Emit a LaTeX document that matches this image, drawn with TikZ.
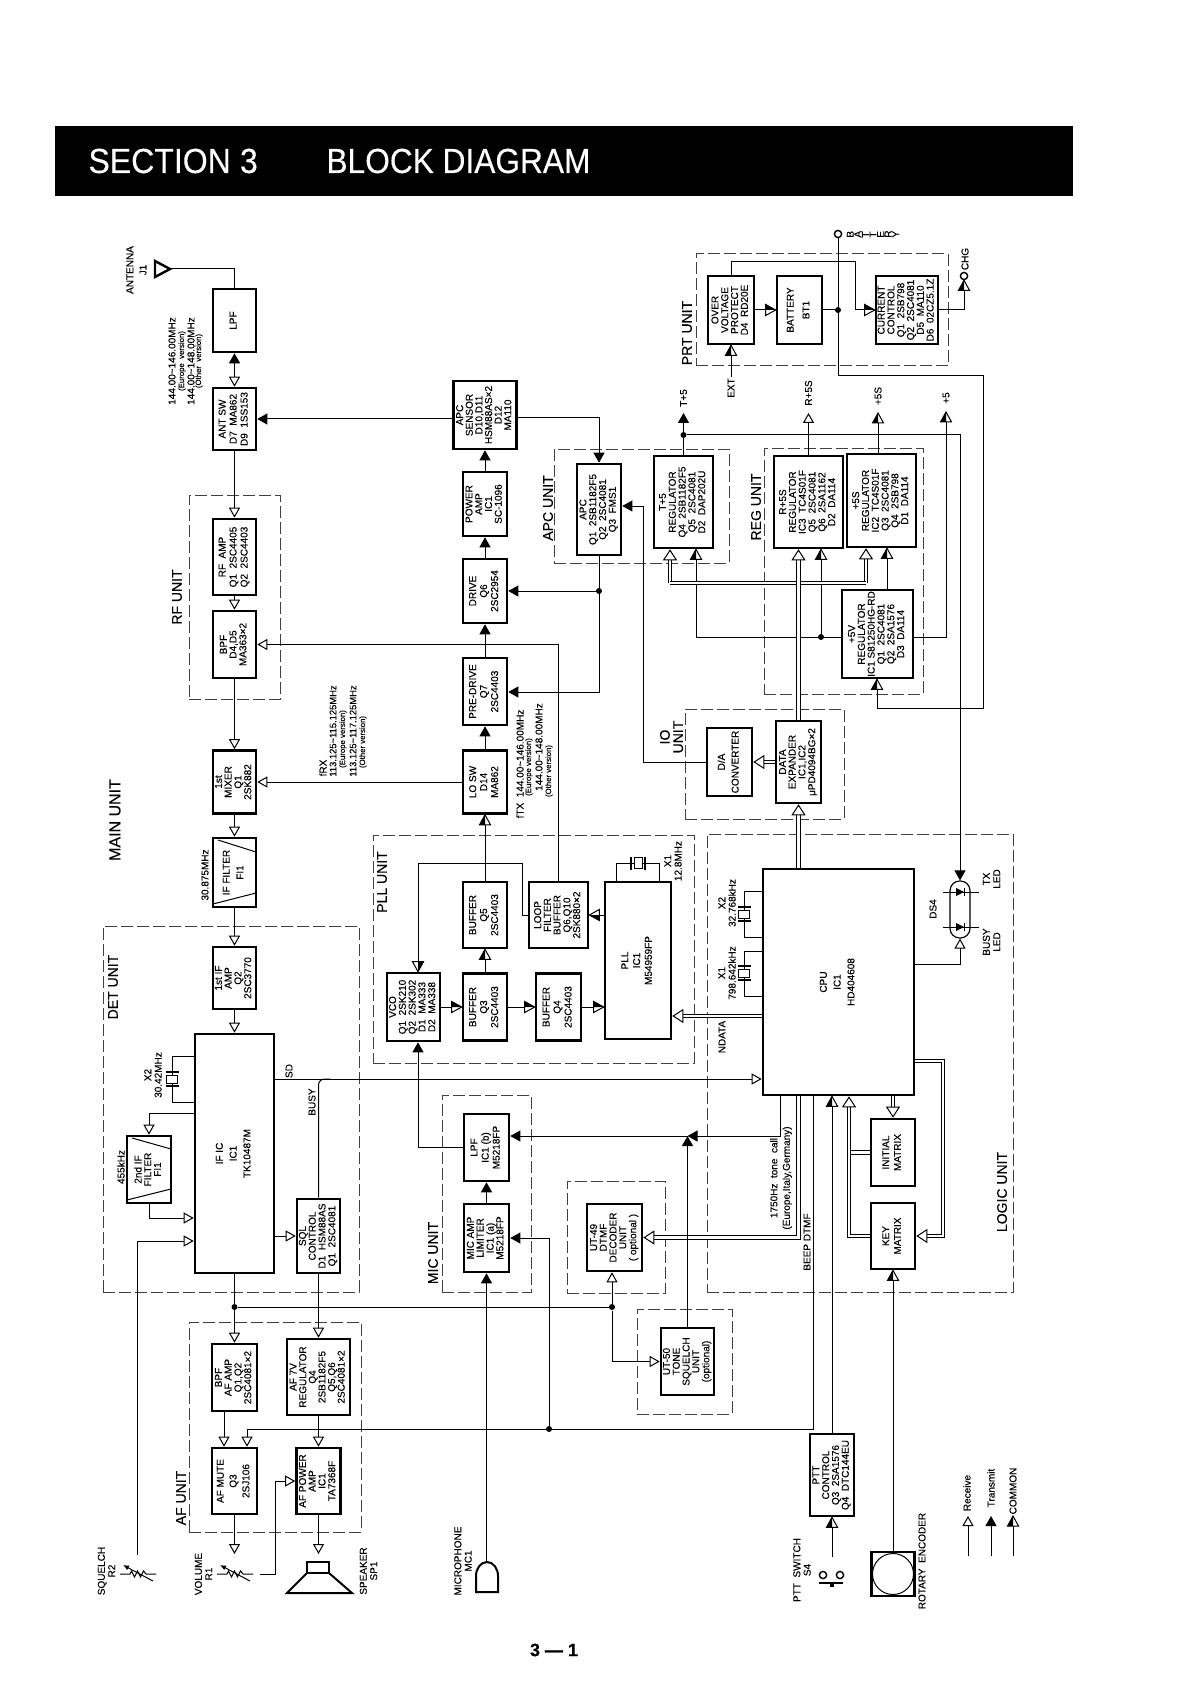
\documentclass[tikz,border=0pt]{standalone}
\usepackage{fontspec}
\setmainfont{Liberation Sans}[FakeBold=0.2]
\usetikzlibrary{arrows.meta,shapes.geometric}
\newcommand{\vt}[1]{\rotatebox{90}{\begin{tabular}{@{}c@{}}#1\end{tabular}}}
\newcommand{\rl}[1]{\rotatebox{90}{#1}\hspace{.35pt}}
\newcommand{\xtalv}[3]{\node[xbody,sz={11/8}] (#1) at (#2,#3) {};
  \draw[plate] (#2-6.5,#3-7) -- (#2+6.5,#3-7) (#2-6.5,#3+7) -- (#2+6.5,#3+7);}
\newcommand{\xtalh}[3]{\node[xbody,sz={8/11}] (#1) at (#2,#3) {};
  \draw[plate] (#2-7,#3-6.5) -- (#2-7,#3+6.5) (#2+7,#3-6.5) -- (#2+7,#3+6.5);}
\pgfdeclarearrow{
  name=Half,
  setup code={\pgfarrowssettipend{5pt}\pgfarrowssetlineend{.5pt}\pgfarrowssetvisualbackend{0pt}\pgfarrowssetbackend{0pt}},
  drawing code={
    \pgfsetdash{}{0pt}\pgfsetmiterjoin
    \pgfpathmoveto{\pgfqpoint{0pt}{2.75pt}}\pgfpathlineto{\pgfqpoint{5pt}{0pt}}\pgfpathlineto{\pgfqpoint{0pt}{-2.75pt}}\pgfpathclose
    \pgfsetfillcolor{white}\pgfusepathqfillstroke
    \pgfpathmoveto{\pgfqpoint{0pt}{2.75pt}}\pgfpathlineto{\pgfqpoint{5pt}{0pt}}\pgfpathlineto{\pgfqpoint{0pt}{0pt}}\pgfpathclose
    \pgfsetfillcolor{black}\pgfusepathqfill
  }
}
\tikzset{
  wt/.tip={Triangle[length=5pt,width=5.5pt,fill=white]},
  bk/.tip={Triangle[length=5pt,width=5.5pt]},
  wb/.tip={Triangle[length=5.5pt,width=7pt,fill=white,line width=.5pt]},
  sz/.code args={#1/#2}{\pgfkeysalso{minimum width=#1*.5pt, minimum height=#2*.5pt}},
  res/.pic={
    \draw (-18,0) -- (-8,0) -- (-6.5,-3) -- (-3.5,3) -- (-.5,-3) -- (2.5,3) -- (5.5,-3) -- (8,0) -- (18,0);
    \draw[-{Latex[length=3pt,width=2.5pt]}] (15,7) -- (-15,-9);
  },
  led/.pic={
    \draw (-17,0) -- (19,0);
    \fill (-4,-4) -- (4,0) -- (-4,4) -- cycle;
    \draw[line width=.7pt] (4.5,-4) -- (4.5,4);
  }
}
\begin{document}
\begin{tikzpicture}[x=.5pt,y=-.5pt,line width=.5pt,
    font=\fontsize{5}{4.7}\selectfont,
    blk/.style={draw, line width=1.3pt, inner sep=0pt, align=center},
    unit/.style={draw, black!75, line width=.5pt, dash pattern=on 6pt off 2pt, inner sep=0pt},
    lab/.style={rotate=90, inner sep=0pt, align=center, font=\fontsize{5}{5.2}\selectfont},
    ulab/.style={lab, font=\fontsize{7}{6.6}\selectfont},
    small/.style={lab, font=\fontsize{3.9}{5}\selectfont},
    dot/.style={circle, fill, inner sep=0pt, minimum size=3pt},
    term/.style={circle, draw, line width=.7pt, fill=white, inner sep=0pt, minimum size=3.6pt},
    xbody/.style={draw, inner sep=0pt, line width=.5pt},
    plate/.style={line width=1pt},
    rx/.style={-{wt}}, tx/.style={-{bk}}, com/.style={-{Half}},
    busl/.style={double, double distance=1.3pt, line width=.5pt},
    bus/.style={busl, -{wb}}]
  \useasboundingbox (0,0) rectangle (1191,1684);

  \node[fill=black, inner sep=0pt, sz={1018/70}] (hdr) at (564,161) {};
  \node[anchor=west, text=white, inner sep=0pt, font=\fontsize{17.4}{20}\selectfont] (sec) at (88,161) {\scalebox{.92}[1]{SECTION\hspace{5pt}3}};
  \node[anchor=west, text=white, inner sep=0pt, font=\fontsize{17.4}{20}\selectfont] (ttl) at (326,161) {\scalebox{.91}[1]{BLOCK DIAGRAM}};
  \node[inner sep=0pt, font=\fontsize{9}{10}\bfseries\selectfont] (pg) at (554,1650) {3 --- 1};

  \node[unit, sz={91/204}] (rfu) at (234.5,597) {};
  \node[unit, sz={256/366}] (detu) at (231,1109) {};
  \node[unit, sz={172/210}] (afu) at (275,1427) {};
  \node[unit, sz={321/228}] (pllu) at (533.5,949) {};
  \node[unit, sz={89/197}] (micu) at (486.5,1193.5) {};
  \node[unit, sz={175/114}] (apcu) at (641.5,506) {};
  \node[unit, sz={159/246}] (regu) at (843.5,571) {};
  \node[unit, sz={252/112}] (prtu) at (822,310) {};
  \node[unit, sz={159/110}] (iou) at (764.5,764) {};
  \node[unit, sz={306/458}] (logu) at (860,1063) {};
  \node[unit, sz={98/112}] (ut49u) at (616,1237) {};
  \node[unit, sz={95/105}] (ut50u) at (684.5,1361.5) {};

  \node[blk, sz={43/63}] (lpf) at (234.5,320.5) {\vt{LPF}};
  \node[blk, sz={43/62}] (antsw) at (234.5,419) {\vt{ANT SW\\[.6pt]D7\ \ MA862\\[.6pt]D9\ \ 1SS153}};
  \node[blk, sz={43/76}] (rfamp) at (234.5,557) {\vt{RF\ \ AMP\\[.6pt]Q1\ \ 2SC4405\\[.6pt]Q2\ \ 2SC4403}};
  \node[blk, sz={43/67}] (bpf) at (234.5,644.5) {\vt{BPF\\D4,D5\\MA363×2}};
  \node[blk, sz={43/63}] (mixer) at (234.5,782) {\vt{1st\\MIXER\\Q1\\2SK882}};
  \node[blk, sz={43/69}] (iffil) at (234.5,872.5) {\vt{IF FILTER\\[2pt]FI1}};
  \node[blk, sz={43/62}] (ifamp) at (234.5,978) {\vt{1st IF\\AMP\\Q2\\2SC3770}};
  \node[blk, sz={79/239}] (ific) at (234.5,1153.5) {\vt{IF IC\\[2pt]IC1\\[2pt]TK10487M}};
  \node[blk, sz={44/67}] (ifil2) at (149,1169.5) {\vt{2nd IF\\FILTER\\FI1}};
  \node[blk, sz={43/74}] (sql) at (318.5,1236) {\vt{SQL\\CONTROL\\D1\ \ HSM88AS\\Q1\ \ 2SC4081}};
  \node[blk, sz={45/67}] (afamp) at (234.5,1377.5) {\vt{BPF\\AF AMP\\Q1,Q2\\2SC4081×2}};
  \node[blk, sz={63/76}, font=\fontsize{5}{4.4}\selectfont] (af7v) at (318.5,1377) {\vt{AF 7V\\REGULATOR\\Q4\\2SB1182F5\\Q5,Q6\\2SC4081×2}};
  \node[blk, sz={45/66}] (afmute) at (234.5,1481) {\vt{AF MUTE\\[1.5pt]Q3\\[1.5pt]2SJ106}};
  \node[blk, sz={44/66}] (afpow) at (318.5,1481) {\vt{AF POWER\\AMP\\IC1\\TA7368F}};

  \node[blk, sz={63/68}, font=\fontsize{5}{4.4}\selectfont] (apcsen) at (485,415) {\vt{APC\\SENSOR\\D10,D11\\HSM88AS×2\\D12\\MA110}};
  \node[blk, sz={44/64}] (pwr) at (485,504) {\vt{POWER\\AMP\\IC1\\SC-1096}};
  \node[blk, sz={44/64}] (drive) at (485,591) {\vt{DRIVE\\[.6pt]Q6\\[.6pt]2SC2954}};
  \node[blk, sz={44/67}] (pre) at (485,691.5) {\vt{PRE-DRIVE\\[.6pt]Q7\\[.6pt]2SC4403}};
  \node[blk, sz={44/63}] (losw) at (485,782) {\vt{LO SW\\[.6pt]D14\\[.6pt]MA862}};
  \node[blk, sz={44/66}] (bufq5) at (485,915) {\vt{BUFFER\\[.6pt]Q5\\[.6pt]2SC4403}};
  \node[blk, sz={44/67}] (bufq3) at (485,1007) {\vt{BUFFER\\[.6pt]Q3\\[.6pt]2SC4403}};
  \node[blk, sz={45/67}] (bufq4) at (558.5,1007) {\vt{BUFFER\\[.6pt]Q4\\[.6pt]2SC4403}};
  \node[blk, sz={53/68}] (vco) at (413.5,1007) {\vt{VCO\\Q1\ \ 2SK210\\Q2\ \ 2SK302\\D1\ \ MA333\\D2\ \ MA338}};
  \node[blk, sz={59/66}] (loop) at (558.5,915) {\vt{LOOP\\FILTER\\BUFFER\\Q6,Q10\\2SK880×2}};
  \node[blk, sz={66/157}] (pll) at (638,960.5) {\vt{PLL\\[1pt]IC1\\[1pt]M54959FP}};

  \node[blk, sz={44/91}] (apc) at (599,509.5) {\vt{APC\\Q1\ \ 2SB1182F5\\Q2\ \ 2SC4081\\Q3\ \ FMS1}};
  \node[blk, sz={59/92}] (treg) at (683.5,502) {\vt{T+5\\REGULATOR\\Q4\ \ 2SB1182F5\\Q5\ \ 2SC4081\\D2\ \ DAP202U}};
  \node[blk, sz={69/92}] (rreg) at (808.5,502) {\vt{R+5S\\REGULATOR\\IC3\ \ TC4S01F\\Q5\ \ 2SC4081\\Q6\ \ 2SA1162\\D2\ \ DA114}};
  \node[blk, sz={69/93}] (sreg) at (881.5,500.5) {\vt{+5S\\REGULATOR\\IC2\ \ TC4S01F\\Q3\ \ 2SC4081\\Q4\ \ 2SB798\\D1\ \ DA114}};
  \node[blk, sz={71/88}] (vreg) at (877.5,634) {\vt{+5V\\REGULATOR\\IC1\ S81250HG-RD\\Q1\ \ 2SC4081\\Q2\ \ 2SA1576\\D3\ \ DA114}};
  \node[blk, sz={45/68}] (da) at (729.5,762) {\vt{D/A\\[2pt]CONVERTER}};
  \node[blk, sz={45/82}] (dexp) at (798.5,762) {\vt{DATA\\EXPANDER\\IC1,IC2\\μPD4094BG×2}};

  \node[blk, sz={151/226}] (cpu) at (838.5,982) {\vt{CPU\\[2pt]IC1\\[2pt]HD404608}};
  \node[blk, sz={44/67}] (imat) at (893,1152.5) {\vt{INITIAL\\[1pt]MATRIX}};
  \node[blk, sz={44/66}] (kmat) at (893,1236) {\vt{KEY\\[1pt]MATRIX}};
  \node[blk, sz={44/82}] (ptt) at (832,1475) {\vt{PTT\\CONTROL\\Q3\ \ 2SA1576\\Q4\ \ DTC144EU}};
  \node[blk, sz={45/67}] (lpfm) at (486.5,1147.5) {\vt{LPF\\[.6pt]IC1 (b)\\[.6pt]M5218FP}};
  \node[blk, sz={45/68}] (micamp) at (486.5,1238) {\vt{MIC AMP\\LIMITER\\IC1 (a)\\M5218FP}};
  \node[blk, sz={55/67}] (ut49) at (614.5,1237.5) {\vt{UT-49\\DTMF\\DECODER\\UNIT\\( optional )}};
  \node[blk, sz={53/67}] (ut50) at (687.5,1361.5) {\vt{UT-50\\TONE\\SQUELCH\\UNIT\\(optional)}};

  \node[blk, sz={46/68}] (over) at (731,310) {\vt{OVER\\VOLTAGE\\PROTECT\\D4\ \ RD20E}};
  \node[blk, sz={45/68}] (batt) at (799.5,310) {\vt{BATTERY\\[3pt]BT1}};
  \node[blk, sz={62/68}] (curr) at (907,310) {\vt{CURRENT\\CONTROL\\Q1\ \ 2SB798\\Q2\ \ 2SC4081\\D5\ \ MA110\\D6\ \ 02CZ5.1Z}};
  \node[blk, sz={43/44}] (enc) at (893,1574) {};
  \node[circle, draw, line width=.5pt, inner sep=0pt, minimum size=20.5pt] (encc) at (893,1574) {};

  \draw (218,840) -- (256,852) (213,904) -- (256,893);
  \draw (132,1138) -- (171,1149) (127,1200) -- (171,1189);

  \draw[line width=1.2pt, fill=white] (155,261) -- (170,269) -- (155,277) -- cycle;
  \coordinate (anttip) at (170,269);
  \draw (anttip) -| (lpf.north);

  \node[dot] (ja) at (599,591) {};
  \node[dot] (jt) at (683.5,435) {};
  \node[dot] (jv) at (821,637) {};
  \node[dot] (jb) at (838,310) {};
  \node[dot] (ji) at (234.5,1307) {};
  \node[dot] (jd) at (612,1307) {};
  \node[dot] (jm) at (549,1429) {};
  \node[term] (bat) at (838,234) {};
  \node[term] (chg) at (964,276) {};
  \node[draw, line width=.6pt, rounded corners=4.8pt, inner sep=0pt, sz={20/57}] (ledc) at (960,909.5) {};
  \pic at (960,892) {led};
  \pic at (960,927) {led};

  \coordinate (t5) at (683.5,413);
  \coordinate (r5s) at (808.5,413);
  \coordinate (ext) at (731,377);
  \coordinate (sqe) at (137,1555);
  \coordinate (vole) at (260,1574);
  \coordinate (afm) at (234.5,1554);
  \coordinate (spk) at (318.5,1554);
  \coordinate (mict) at (486.5,1562);
  \coordinate (pttsw) at (832,1557);
  \coordinate (jp) at (687.5,1136);
  \coordinate (lg1) at (968,1556);
  \coordinate (lg2) at (991,1556);
  \coordinate (lg3) at (1013,1556);

  \draw[{bk}-{wt}] (lpf.south) -- (antsw.north);
  \draw[rx] (antsw.south) -- (rfamp.north);
  \draw[rx] (rfamp.south) -- (bpf.north);
  \draw[rx] (bpf.south) -- (mixer.north);
  \draw[rx] (mixer.south) -- (iffil.north);
  \draw[rx] (iffil.south) -- (ifamp.north);
  \draw[rx] (ifamp.south) -- (ific.north);
  \draw[rx] (losw.west) -- (mixer.east);
  \draw[tx] (apcsen.west |- antsw.east) -- (antsw.east);
  \draw[rx] (loop.north) |- (bpf.east);
  \draw[tx] (pwr.north) -- (apcsen.south);
  \draw[tx] (drive.north) -- (pwr.south);
  \draw[tx] (pre.north) -- (drive.south);
  \draw[tx] (losw.north) -- (pre.south);
  \draw[com] (bufq5.north) -- (losw.south);
  \draw[com] (bufq3.north) -- (bufq5.south);
  \draw[com] (vco.east) -- (bufq3.west);
  \draw[com] (bufq3.east) -- (bufq4.west);
  \draw[com] (bufq4.east) -- (bufq4.east -| pll.west);
  \draw[com] (loop.west) -| (522,863) -| (418,0 |- vco.north);
  \draw[tx] (lpfm.west) -| (418,0 |- vco.south);
  \draw[com] (pll.west |- loop.east) -- (loop.east);
  \xtalh{xpll}{638}{863}
  \draw (616,0 |- pll.north) |- (xpll.west);
  \draw (659,0 |- pll.north) |- (xpll.east);
  \draw[bus] (cpu.west |- 0,1016) -- (pll.east |- 0,1016);
  \draw[rx] (ific.east |- 0,1079) -- (cpu.west |- 0,1079);
  \draw[rounded corners=3pt] (sql.north) |- (330,1079);
  \draw[tx] (da.west) -| (643,506) -- (apc.east |- 0,506);
  \draw[tx] (apcsen.east |- 0,418) -| (apc.north);
  \draw[tx] (apc.south) |- (pre.east |- 0,692);
  \draw[tx] (ja) -- (drive.east);
  \draw[tx] (treg.north) -- (t5);
  \draw[tx] (jt) -| (ledc.north);
  \draw[rx] (rreg.north) -- (r5s);
  \draw[com] (878,0 |- sreg.north) -- (878,413);
  \draw[com] (vreg.east |- 0,637) -| (946,412);
  \draw[com] (vreg.west |- 0,637) -| (696,0 |- treg.south);
  \draw[com] (jv) -- (821,0 |- rreg.south);
  \draw[com] (887,0 |- vreg.north) -- (887,0 |- sreg.south);
  \draw[com] (bat.south) |- (983,376) |- (877,708) -- (877,0 |- vreg.south);
  \draw (batt.east) -- (jb);
  \draw[com] (over.east) -- (batt.west);
  \draw[com] (over.north) |- (855,262) |- (curr.west);
  \draw[com] (curr.east) -| (chg.south);
  \draw[com] (ext) -- (over.south);
  \draw[bus] (670,583) -- (670,0 |- treg.south);
  \draw[bus] (866,583) -- (866,0 |- sreg.south);
  \draw[busl] (670,583) -- (866,583);
  \draw[bus] (dexp.north) -- (dexp.north |- rreg.south);
  \draw[bus] (dexp.west) -- (da.east);
  \draw[bus] (dexp.south |- cpu.north) -- (dexp.south);
  \draw[bus] (dexp.south |- cpu.south) |- (ut49.east);
  \draw[rx] (813,0 |- cpu.south) |- (247,1429) -- (247,0 |- afmute.north);
  \draw[tx] (jm) |- (micamp.east);
  \draw[tx] (micamp.south |- mict) -- (micamp.south);
  \draw[tx] (micamp.north) -- (lpfm.south);
  \draw[tx] (780,0 |- cpu.south) |- (jp);
  \draw[tx] (jp) -- (lpfm.east |- jp);
  \draw[tx] (ut50.north) -- (jp);
  \draw[rx] (ific.south) -- (afamp.north);
  \draw (ji) -- (jd);
  \draw[rx] (jd) -- (612,0 |- ut49.south);
  \draw[rx] (jd) |- (ut50.west);
  \draw[rx] (sql.south) -- (af7v.north);
  \draw[rx] (ific.east |- sql.west) -- (sql.west);
  \draw[rx] (ific.west |- 0,1113) -| (ifil2.north);
  \draw[rx] (ifil2.south) |- (ific.west |- 0,1218);
  \draw[rx] (sqe) |- (ific.west |- 0,1241);
  \xtalv{xif}{172}{1079}
  \draw (ific.west |- 0,1056) -| (xif.north);
  \draw (ific.west |- 0,1102) -| (xif.south);
  \draw[rx] (224,0 |- afamp.south) -- (224,0 |- afmute.north);
  \draw[rx] (af7v.south) -- (afpow.north);
  \draw[rx] (afmute.south) -- (afm);
  \draw[rx] (afpow.south) -- (spk);
  \draw[rx] (vole) -| (275,1481) -- (afpow.west);
  \draw[rx] (cpu.east |- 0,964) -| (ledc.south);
  \draw[bus] (cpu.east |- 0,1061) -| (943,1236) -- (kmat.east);
  \draw[bus] (imat.north |- cpu.south) -- (imat.north);
  \draw[busl] (imat.west) -- (849,0 |- imat.west);
  \draw[bus] (kmat.west) -| (849,0 |- cpu.south);
  \draw[com] (ptt.north) -- (ptt.north |- cpu.south);
  \draw[com] (pttsw) -- (ptt.south);
  \draw[com] (enc.north) -- (kmat.south);
  \xtalv{xc2}{744}{914}
  \draw (cpu.west |- 0,891) -| (xc2.north);
  \draw (cpu.west |- 0,937) -| (xc2.south);
  \xtalv{xc1}{744}{973}
  \draw (cpu.west |- 0,951) -| (xc1.north);
  \draw (cpu.west |- 0,996) -| (xc1.south);
  \draw[rx] (lg1) -- ++(0,-40);
  \draw[tx] (lg2) -- ++(0,-40);
  \draw[com] (lg3) -- ++(0,-40);

  \pic at (138,1574) {res};
  \pic at (235,1574) {res};
  \draw[line width=1pt] (307,1562) rectangle (329,1573);
  \draw[line width=1pt, line join=miter] (307,1573) -- (287,1593) -- (352,1593) -- (329,1573);
  \draw[line width=1pt] (476,1592) -- (476,1576) arc[start angle=180, end angle=360, x radius=11, y radius=14] -- (498,1592) -- cycle;
  \node[term] (sw1) at (823,1575) {};
  \node[term] (sw2) at (840,1575) {};
  \draw[line width=1pt] (819,1583) -- (843,1583);
  \fill (829.5,1583) rectangle (833.5,1587);

  \node[lab] (lant) at (136.5,270) {ANTENNA\\[1.4pt]J1};
  \node[lab] (f1) at (172,361) {144.00\textasciitilde146.00MHz};
  \node[small] (f2) at (182,361) {(Europe\ \ version)};
  \node[lab] (f3) at (191,361) {144.00\textasciitilde148.00MHz};
  \node[small] (f4) at (199,361) {(Other\ \ version)};
  \node[ulab] (lrf) at (177,597) {RF UNIT};
  \node[lab] (frx) at (323,768) {fRX};
  \node[lab, font=\fontsize{4.7}{5}\selectfont] (fr1) at (333,731) {113.125\textasciitilde115.125MHz};
  \node[small] (fr2) at (343,739) {(Europe version)};
  \node[lab, font=\fontsize{4.7}{5}\selectfont] (fr3) at (353,731) {113.125\textasciitilde117.125MHz};
  \node[small] (fr4) at (363,742) {(Other version)};
  \node[ulab, font=\fontsize{8}{9.5}\selectfont] (lmain) at (115,820) {MAIN UNIT};
  \node[lab] (l30) at (205,875) {30.875MHz};
  \node[ulab] (ldet) at (113,987) {DET UNIT};
  \node[ulab] (lpll) at (382,882) {PLL UNIT};
  \node[lab] (lx2) at (153,1075) {X2\\30.42MHz};
  \node[lab] (lsd) at (289,1071) {SD};
  \node[lab] (lbusy) at (312,1102) {BUSY};
  \node[lab] (l455) at (121,1167) {455kHz};
  \node[ulab] (lmic) at (433,1253) {MIC UNIT};
  \node[ulab] (laf) at (181,1498) {AF UNIT};
  \node[lab] (lsq) at (106.5,1571) {SQUELCH\\R2};
  \node[lab] (lvol) at (203.5,1574) {VOLUME\\R1};
  \node[lab] (lspk) at (368.5,1571) {SPEAKER\\SP1};
  \node[lab] (lmicr) at (463,1561) {MICROPHONE\\MC1};
  \node[lab] (ltx) at (520,764) {fTX\ \ 144.00\textasciitilde146.00MHz};
  \node[small] (ltx2) at (529,767) {(Europe version)};
  \node[lab] (ltx3) at (539,747) {144.00\textasciitilde148.00MHz};
  \node[small] (ltx4) at (549,771) {(Other version)};
  \node[lab] (lx1) at (673,861) {X1\\12.8MHz};
  \node[ulab] (lapc) at (548,508) {APC UNIT};
  \node[lab] (lt5) at (683.5,398) {T+5};
  \node[ulab] (lreg) at (756,507) {REG UNIT};
  \node[lab] (lr5) at (808.5,393) {R+5S};
  \node[lab] (ls5) at (878,396) {+5S};
  \node[lab] (lp5) at (946,398) {+5};
  \node[ulab] (lprt) at (687,333) {PRT UNIT};
  \node[lab] (lext) at (731,388) {EXT};
  \node[lab] (lchg) at (965,259) {CHG};
  \node[inner sep=0pt, font=\fontsize{5}{6}\selectfont] (lbat) at (873,234) {\rl{B}\rl{A}\rl{T}\rl{T}\rl{E}\rl{R}\rl{Y}};
  \node[ulab] (lio) at (671.5,737) {IO\\UNIT};
  \node[ulab] (llog) at (1002,1192) {LOGIC UNIT};
  \node[lab] (lcx2) at (727,903) {X2\\32.768kHz};
  \node[lab] (lcx1) at (727,973) {X1\\798.642kHz};
  \node[lab] (lnd) at (722,1037) {NDATA};
  \node[lab] (lds) at (933,909) {DS4};
  \node[lab] (ltl) at (991.5,879) {TX\\LED};
  \node[lab] (lbl) at (991.5,942) {BUSY\\LED};
  \node[lab] (l1750) at (781,1178) {1750Hz\ \ tone\ \ call\\[1pt](Europe,Italy,Germany)};
  \node[lab] (lbd) at (807,1242) {BEEP DTMF};
  \node[lab] (lptt) at (802,1570) {PTT\ \ SWITCH\\S4};
  \node[lab] (lenc) at (922,1561) {ROTARY\ \ ENCODER};
  \node[lab] (lg1t) at (967,1493) {Receive};
  \node[lab] (lg2t) at (991,1488) {Transmit};
  \node[lab] (lg3t) at (1013,1491) {COMMON};
\end{tikzpicture}
\end{document}
